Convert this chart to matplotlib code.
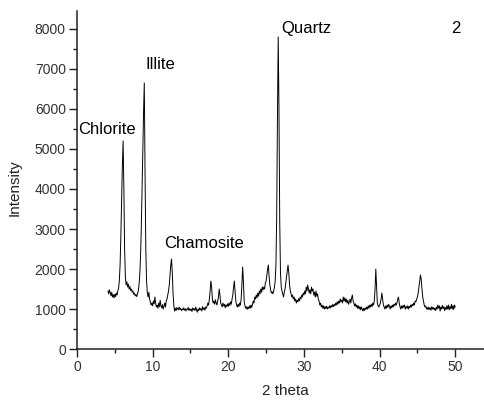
import matplotlib

matplotlib.use("Agg")

import matplotlib.pyplot as plt
from matplotlib.ticker import MultipleLocator

plt.rcParams["font.family"] = ["Liberation Sans", "DejaVu Sans"]

# XRD pattern of sample 2 (2 theta in degrees, counts)
two_theta = [
    4.1, 4.2, 4.3, 4.4, 4.5, 4.6, 4.7, 4.8, 4.9, 5.0,
    5.1, 5.2, 5.3, 5.4, 5.5, 5.6, 5.7, 5.8, 5.9, 6.0,
    6.1, 6.2, 6.3, 6.4, 6.5, 6.6, 6.7, 6.8, 6.9, 7.0,
    7.1, 7.2, 7.3, 7.4, 7.5, 7.6, 7.7, 7.8, 7.9, 8.0,
    8.1, 8.2, 8.3, 8.4, 8.5, 8.6, 8.7, 8.8, 8.9, 9.0,
    9.1, 9.2, 9.3, 9.4, 9.5, 9.6, 9.7, 9.8, 9.9, 10.0,
    10.1, 10.2, 10.3, 10.4, 10.5, 10.6, 10.7, 10.8, 10.9, 11.0,
    11.1, 11.2, 11.3, 11.4, 11.5, 11.6, 11.7, 11.8, 11.9, 12.0,
    12.1, 12.2, 12.3, 12.4, 12.5, 12.6, 12.7, 12.8, 12.9, 13.0,
    13.1, 13.2, 13.3, 13.4, 13.5, 13.6, 13.7, 13.8, 13.9, 14.0,
    14.1, 14.2, 14.3, 14.4, 14.5, 14.6, 14.7, 14.8, 14.9, 15.0,
    15.1, 15.2, 15.3, 15.4, 15.5, 15.6, 15.7, 15.8, 15.9, 16.0,
    16.1, 16.2, 16.3, 16.4, 16.5, 16.6, 16.7, 16.8, 16.9, 17.0,
    17.1, 17.2, 17.3, 17.4, 17.5, 17.6, 17.7, 17.8, 17.9, 18.0,
    18.1, 18.2, 18.3, 18.4, 18.5, 18.6, 18.7, 18.8, 18.9, 19.0,
    19.1, 19.2, 19.3, 19.4, 19.5, 19.6, 19.7, 19.8, 19.9, 20.0,
    20.1, 20.2, 20.3, 20.4, 20.5, 20.6, 20.7, 20.8, 20.9, 21.0,
    21.1, 21.2, 21.3, 21.4, 21.5, 21.6, 21.7, 21.8, 21.9, 22.0,
    22.1, 22.2, 22.3, 22.4, 22.5, 22.6, 22.7, 22.8, 22.9, 23.0,
    23.1, 23.2, 23.3, 23.4, 23.5, 23.6, 23.7, 23.8, 23.9, 24.0,
    24.1, 24.2, 24.3, 24.4, 24.5, 24.6, 24.7, 24.8, 24.9, 25.0,
    25.1, 25.2, 25.3, 25.4, 25.5, 25.6, 25.7, 25.8, 25.9, 26.0,
    26.1, 26.2, 26.3, 26.4, 26.5, 26.6, 26.7, 26.8, 26.9, 27.0,
    27.1, 27.2, 27.3, 27.4, 27.5, 27.6, 27.7, 27.8, 27.9, 28.0,
    28.1, 28.2, 28.3, 28.4, 28.5, 28.6, 28.7, 28.8, 28.9, 29.0,
    29.1, 29.2, 29.3, 29.4, 29.5, 29.6, 29.7, 29.8, 29.9, 30.0,
    30.1, 30.2, 30.3, 30.4, 30.5, 30.6, 30.7, 30.8, 30.9, 31.0,
    31.1, 31.2, 31.3, 31.4, 31.5, 31.6, 31.7, 31.8, 31.9, 32.0,
    32.1, 32.2, 32.3, 32.4, 32.5, 32.6, 32.7, 32.8, 32.9, 33.0,
    33.1, 33.2, 33.3, 33.4, 33.5, 33.6, 33.7, 33.8, 33.9, 34.0,
    34.1, 34.2, 34.3, 34.4, 34.5, 34.6, 34.7, 34.8, 34.9, 35.0,
    35.1, 35.2, 35.3, 35.4, 35.5, 35.6, 35.7, 35.8, 35.9, 36.0,
    36.1, 36.2, 36.3, 36.4, 36.5, 36.6, 36.7, 36.8, 36.9, 37.0,
    37.1, 37.2, 37.3, 37.4, 37.5, 37.6, 37.7, 37.8, 37.9, 38.0,
    38.1, 38.2, 38.3, 38.4, 38.5, 38.6, 38.7, 38.8, 38.9, 39.0,
    39.1, 39.2, 39.3, 39.4, 39.5, 39.6, 39.7, 39.8, 39.9, 40.0,
    40.1, 40.2, 40.3, 40.4, 40.5, 40.6, 40.7, 40.8, 40.9, 41.0,
    41.1, 41.2, 41.3, 41.4, 41.5, 41.6, 41.7, 41.8, 41.9, 42.0,
    42.1, 42.2, 42.3, 42.4, 42.5, 42.6, 42.7, 42.8, 42.9, 43.0,
    43.1, 43.2, 43.3, 43.4, 43.5, 43.6, 43.7, 43.8, 43.9, 44.0,
    44.1, 44.2, 44.3, 44.4, 44.5, 44.6, 44.7, 44.8, 44.9, 45.0,
    45.1, 45.2, 45.3, 45.4, 45.5, 45.6, 45.7, 45.8, 45.9, 46.0,
    46.1, 46.2, 46.3, 46.4, 46.5, 46.6, 46.7, 46.8, 46.9, 47.0,
    47.1, 47.2, 47.3, 47.4, 47.5, 47.6, 47.7, 47.8, 47.9, 48.0,
    48.1, 48.2, 48.3, 48.4, 48.5, 48.6, 48.7, 48.8, 48.9, 49.0,
    49.1, 49.2, 49.3, 49.4, 49.5, 49.6, 49.7, 49.8, 49.9, 50.0,
]
intensity = [
    1450, 1380, 1480, 1400, 1330, 1420, 1300, 1360, 1280, 1370,
    1310, 1400, 1350, 1450, 1520, 1700, 2100, 2800, 3700, 4600,
    5200, 4000, 2500, 1800, 1600, 1680, 1550, 1620, 1500, 1560,
    1460, 1500, 1420, 1450, 1370, 1400, 1330, 1360, 1310, 1380,
    1450, 1600, 1850, 2300, 3000, 3900, 4900, 5900, 6650, 4400,
    2500, 1700, 1400, 1300, 1420, 1250, 1180, 1100, 1150, 1080,
    1200, 1130, 1300, 1150, 1050, 1100, 1020, 1150, 1060, 1220,
    1080, 1030, 1110, 1000, 1080, 1150, 1050, 1200, 1250, 1350,
    1450, 1600, 1850, 2100, 2250, 1900, 1400, 1100, 950, 1020,
    960, 1040, 1000, 980, 1050, 990, 1020, 960, 1000, 980,
    1030, 970, 1010, 950, 1000, 990, 1040, 960, 1010, 970,
    1000, 940, 1030, 980, 1010, 960, 1050, 990, 920, 1000,
    960, 1030, 980, 1010, 950, 1060, 990, 1030, 970, 1050,
    1020, 1080, 1150, 1100, 1250, 1450, 1700, 1550, 1250, 1150,
    1200, 1120, 1230, 1150, 1100, 1200, 1300, 1500, 1350, 1150,
    1100, 1050, 1150, 1080, 1120, 1030, 1100, 1060, 1130, 1070,
    1150, 1090, 1180, 1120, 1250, 1350, 1550, 1700, 1450, 1200,
    1100, 1050, 1120, 1060, 1150, 1100, 1250, 1600, 2050, 1700,
    1200, 1080, 1020, 1060, 990, 1050, 1010, 1080, 1020, 1100,
    1040, 1120, 1200, 1150, 1300, 1250, 1350, 1280, 1400, 1320,
    1450, 1380, 1500, 1420, 1550, 1480, 1550, 1500, 1650, 1700,
    1850, 2000, 2100, 1800, 1600, 1480, 1400, 1430, 1380, 1450,
    1550, 1700, 2100, 3300, 5800, 7800, 6000, 3200, 1900, 1550,
    1450, 1380, 1300, 1420, 1500, 1650, 1800, 1950, 2100, 1900,
    1600, 1450, 1380, 1300, 1350, 1250, 1300, 1200, 1250, 1150,
    1220, 1180, 1260, 1200, 1300, 1250, 1350, 1300, 1400, 1350,
    1450, 1380, 1550, 1450, 1600, 1500, 1400, 1480, 1380, 1550,
    1450, 1500, 1350, 1420, 1300, 1450, 1320, 1380, 1250, 1200,
    1100, 1150, 1050, 1100, 1020, 1080, 1000, 1060, 1010, 1070,
    1000, 1050, 1020, 1080, 1030, 1090, 1050, 1110, 1060, 1120,
    1080, 1150, 1100, 1180, 1120, 1200, 1150, 1250, 1180, 1220,
    1150, 1300, 1200, 1280, 1180, 1250, 1150, 1220, 1120, 1180,
    1250, 1150, 1280, 1350, 1200, 1150, 1080, 1130, 1050, 1100,
    1020, 1080, 1000, 1060, 980, 1050, 1000, 950, 1020, 960,
    1030, 990, 1050, 1000, 1080, 1020, 1100, 1050, 1120, 1060,
    1150, 1100, 1200, 1500, 2000, 1600, 1150, 1080, 1050, 1100,
    1150, 1250, 1400, 1250, 1100, 1050, 1000, 1080, 1020, 1100,
    1040, 1120, 1060, 1000, 1080, 1030, 1100, 1050, 1120, 1080,
    1150, 1100, 1150, 1250, 1300, 1150, 1050, 1000, 1080, 1020,
    1090, 1040, 1100, 1000, 1060, 1020, 1080, 1000, 1070, 1030,
    1100, 1050, 1120, 1080, 1150, 1100, 1200, 1180, 1250, 1300,
    1400, 1550, 1700, 1850, 1750, 1500, 1300, 1200, 1100, 1050,
    1080, 1000, 1040, 980, 1050, 990, 1030, 970, 1060, 1000,
    1040, 980, 1020, 960, 1050, 1000, 1100, 1020, 1080, 950,
    1050, 1000, 1090, 1010, 1060, 960, 1040, 990, 1080, 1000,
    1100, 980, 1060, 1010, 1120, 1000, 1080, 990, 1100, 1050,
]

# phase labels: (text, 2 theta, intensity) of the left/centre anchor
phase_names = ["Chlorite", "Illite", "Chamosite", "Quartz"]
phase_x = [0.1, 9.1, 11.5, 27.0]
phase_y = [5480, 7100, 2630, 8000]
sample_label = "2"

fig = plt.figure(figsize=(4.84, 4.04), dpi=100)
ax = fig.add_axes([0.159, 0.136, 0.841, 0.837])
ax.plot(two_theta, intensity, color="black", lw=0.7)

for name, x, y in zip(phase_names, phase_x, phase_y):
    ax.text(x, y, name, fontsize=12, ha="left", va="center")
ax.text(50.1, 8000, sample_label, fontsize=12, ha="center", va="center")

ax.set_xlim(0, 53.8)
ax.set_ylim(0, 8450)
ax.xaxis.set_major_locator(MultipleLocator(10))
ax.xaxis.set_minor_locator(MultipleLocator(5))
ax.yaxis.set_major_locator(MultipleLocator(1000))
ax.yaxis.set_minor_locator(MultipleLocator(500))

for side in ["top", "right"]:
    ax.spines[side].set_visible(False)
for side in ["left", "bottom"]:
    ax.spines[side].set_linewidth(1.1)
    ax.spines[side].set_color("#222222")
ax.tick_params(which="major", length=5.5, width=1.0, color="#222222",
               labelsize=10, labelcolor="#333333", pad=2.5)
ax.tick_params(which="minor", length=3, width=1.0, color="#222222")

ax.set_xlabel("2 theta", fontsize=11, color="#222222")
ax.set_ylabel("Intensity", fontsize=11, color="#222222")
ax.xaxis.set_label_coords(0.511, -0.103)
ax.yaxis.set_label_coords(-0.135, 0.476)

fig.savefig("out.png", dpi=100, facecolor="white")
plt.close(fig)
